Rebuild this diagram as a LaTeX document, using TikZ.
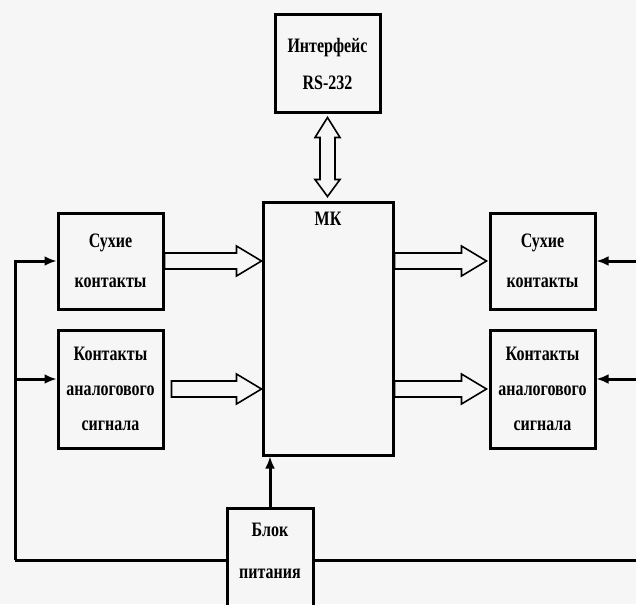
\documentclass[tikz,border=0pt]{standalone}
\usepackage{fontspec}
\setmainfont{Liberation Serif}[FakeStretch=0.78]
\usetikzlibrary{calc,arrows.meta}
\definecolor{bgc}{RGB}{246,246,246}
\tikzset{
  blk/.style={draw, line width=3pt, inner sep=0pt, align=center,
    font=\bfseries\fontsize{20.5}{#1}\selectfont},
  blk/.default=40,
  lbl/.style={inner sep=0pt, align=center, font=\bfseries\fontsize{20.5}{#1}\selectfont},
  lbl/.default=40,
  hollow/.style={draw, line width=1.6pt, line join=miter},
  fb/.style={line width=3pt},
  fbarrow/.style={fb, -{Latex[length=12pt,width=10pt]}},
}
\newcommand\harrow[2]{%
  \draw[hollow] let \p1=(#1), \p2=(#2) in
    (\x1,\y1+8pt) -- (\x2-25pt,\y1+8pt) -- (\x2-25pt,\y1+15pt) -- (\x2,\y1)
    -- (\x2-25pt,\y1-15pt) -- (\x2-25pt,\y1-8pt) -- (\x1,\y1-8pt) -- cycle;}
\begin{document}
\begin{tikzpicture}[x=1pt,y=-1pt]
\fill[bgc] (0,0) rectangle (636,604);
\useasboundingbox (0,0) rectangle (636,604);
\clip (0,0) rectangle (636,604);
% blocks
\node[blk=37, minimum width=105pt, minimum height=98pt] (rs) at (327.5,64) {Интерфейс\\RS-232};
\node[blk, minimum width=130pt, minimum height=253pt] (mk) at (328,328.5) {};
\node[lbl, anchor=north] (mklbl) at (328,212) {МК};
\node[blk, minimum width=105pt, minimum height=96pt] (ls) at (110.5,261) {Сухие\\контакты};
\node[blk=35, minimum width=105pt, minimum height=118pt] (la) at (110.5,389) {Контакты\\аналогового\\сигнала};
\node[blk, minimum width=105pt, minimum height=96pt] (rd) at (542.5,261) {Сухие\\контакты};
\node[blk=35, minimum width=105pt, minimum height=118pt] (ra) at (542.5,389) {Контакты\\аналогового\\сигнала};
\node[blk, minimum width=86pt, minimum height=120pt] (bp) at (270,568) {};
\node[lbl=42] (bplbl) at (270,551) {Блок\\питания};
% hollow arrows
\harrow{ls.east}{mk.west |- ls.east}
\harrow{[xshift=7pt]la.east}{mk.west |- la.east}
\harrow{mk.east |- rd.west}{[xshift=-2pt]rd.west}
\harrow{mk.east |- ra.west}{[xshift=-2pt]ra.west}
% double vertical arrow
\draw[hollow] let \p1=(rs.south), \p2=(mk.north) in
  (\x1,\y1-3pt) -- (\x1+12.5pt,\y1-23pt) -- (\x1+7.5pt,\y1-23pt) -- (\x1+7.5pt,\y2+21pt)
  -- (\x1+12.5pt,\y2+21pt) -- (\x1,\y2+4pt) -- (\x1-12.5pt,\y2+21pt) -- (\x1-7.5pt,\y2+21pt)
  -- (\x1-7.5pt,\y1-23pt) -- (\x1-12.5pt,\y1-23pt) -- cycle;
% power lines
\coordinate (botL) at (15,560);
\coordinate (botR) at (650,560);
\draw[fb] (bp.west |- botL) -- (botL);
\draw[fb] (bp.east |- botR) -- (botR);
\draw[fbarrow] (botL) |- (ls.west);
\draw[fbarrow] (botL) |- ([yshift=10pt]la.west);
\draw[fbarrow] (botR) |- (rd.east);
\draw[fbarrow] (botR) |- ([yshift=10pt]ra.east);
\draw[fbarrow] (bp.north) -- (bp.north |- mk.south);
\end{tikzpicture}
\end{document}
